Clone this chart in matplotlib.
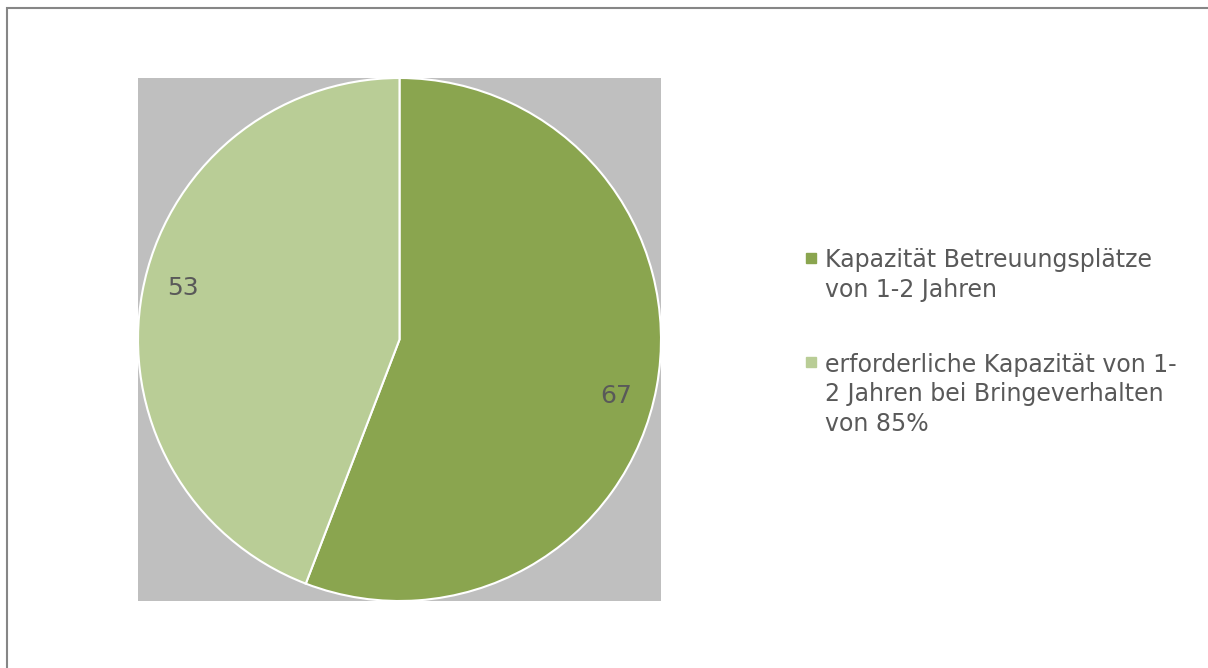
import matplotlib
matplotlib.use("Agg")
import numpy as np
import matplotlib.pyplot as plt
from matplotlib.lines import Line2D
from matplotlib.patches import Rectangle

# data
labels = ["Kapazität Betreuungsplätze\nvon 1-2 Jahren",
          "erforderliche Kapazität von 1-\n2 Jahren bei Bringeverhalten\nvon 85%"]
values = [67, 53]
colors = ["#8AA54F", "#B9CD96"]
text_color = "#595959"

plt.rcParams['font.family'] = ['DejaVu Sans']

fig = plt.figure(figsize=(12.08, 6.68), dpi=100)

# outer frame of the chart
fig.patches.append(Rectangle((6.5 / 1208, -0.05), 1.1, 1 - 7.5 / 668 + 0.05,
                             transform=fig.transFigure, fill=False,
                             edgecolor="#868686", linewidth=1.5))

ax = fig.add_axes([138 / 1208, 1 - 601 / 668, 523 / 1208, 523 / 668])
ax.set_facecolor("#BFBFBF")

wedges, texts, autotexts = ax.pie(
    values, colors=colors, startangle=90, counterclock=False, radius=1,
    autopct=lambda p: "{:.0f}".format(p * sum(values) / 100),
    pctdistance=0.85,
    wedgeprops=dict(edgecolor="white", linewidth=1.5),
    textprops=dict(color=text_color, fontsize=18),
    frame=True)
# excel "best fit" puts the labels a bit clockwise of the middle
for w, t in zip(wedges, autotexts):
    a = np.deg2rad((w.theta1 + w.theta2) / 2 - 3.5)
    t.set_position((0.855 * np.cos(a), 0.855 * np.sin(a)))
    t.set_verticalalignment("center_baseline")

ax.set_xlim(-1, 1)
ax.set_ylim(-1, 1)
ax.set_xticks([])
ax.set_yticks([])
for s in ax.spines.values():
    s.set_visible(False)

handles = [Line2D([], [], linestyle="none", marker="s", markersize=7.5,
                  markerfacecolor=c, markeredgecolor=c) for c in colors]
leg = fig.legend(handles, labels, loc="center left",
                 bbox_to_anchor=(804 / 1208, 1 - 342 / 668),
                 frameon=False, fontsize=17, labelcolor=text_color,
                 handlelength=0.6, handleheight=1.1, handletextpad=0.3,
                 borderpad=0, borderaxespad=0, labelspacing=2.15)
for t in leg.get_texts():
    t.set_linespacing(1.3)
# markers next to the first line of each entry
for col in leg._legend_handle_box.get_children():
    for row in col.get_children():
        row.align = "top"

fig.savefig("out.png", dpi=100)
